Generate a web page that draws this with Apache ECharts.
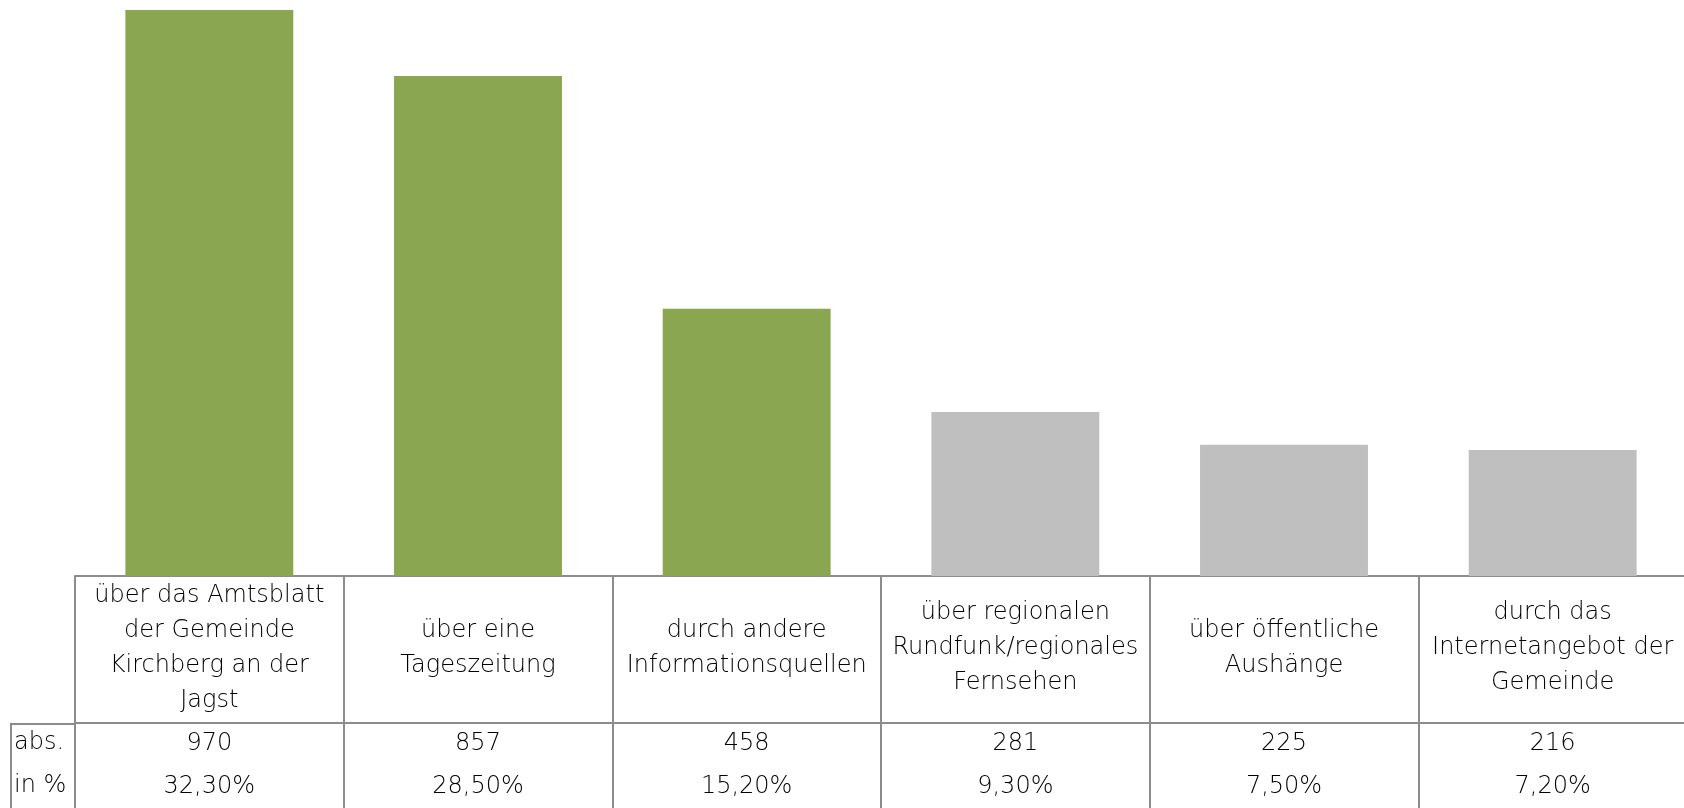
<!DOCTYPE html>
<html>
<head>
<meta charset="utf-8">
<script src="https://cdn.jsdelivr.net/npm/echarts@6/dist/echarts.min.js"></script>
<style>
    html,body{margin:0;padding:0;background:#fff;}
    #box{width:1684px;height:808px;}
</style>
</head>
<body>
<div id="box"></div>
<script>
// Kategorien und Werte
const categories = [
    'über das Amtsblatt\nder Gemeinde\nKirchberg an der\nJagst',
    'über eine\nTageszeitung',
    'durch andere\nInformationsquellen',
    'über regionalen\nRundfunk/regionales\nFernsehen',
    'über öffentliche\nAushänge',
    'durch das\nInternetangebot der\nGemeinde'
];
const absValues = [970, 857, 458, 281, 225, 216];
const pctValues = ['32,30%', '28,50%', '15,20%', '9,30%', '7,50%', '7,20%'];
const highlighted = [true, true, true, false, false, false];

const GREEN = '#8aa650';
const GREY_BAR = '#bfbfbf';
const LINE = '#8c8c8c';
const TXT = '#000';
const FONT = '"DejaVu Sans"';
const FONT_SIZE = 24;

const labelStyle = {
    color: TXT,
    fontFamily: FONT,
    fontWeight: 200,
    fontSize: FONT_SIZE,
    lineHeight: 35,
    verticalAlign: 'middle',
    interval: 0
};

let chart = echarts.init(document.getElementById('box'));

let option = {
    animation: false,
    grid: {
        left: 75,
        width: 1612,
        top: 10,
        bottom: 232,
        containLabel: false,
        outerBoundsMode: 'none'
    },
    xAxis: [
        {
            type: 'category',
            data: categories,
            position: 'bottom',
            axisLine: {lineStyle: {color: LINE, width: 2}},
            axisTick: {show: true, length: 232, lineStyle: {color: LINE, width: 2}},
            axisLabel: Object.assign({margin: 72}, labelStyle),
            splitLine: {show: false}
        },
        {
            type: 'category',
            data: absValues.map(v => String(v)),
            position: 'bottom',
            offset: 147,
            axisLine: {lineStyle: {color: LINE, width: 2}},
            axisTick: {show: false},
            axisLabel: Object.assign({margin: 21}, labelStyle)
        },
        {
            type: 'category',
            data: pctValues,
            position: 'bottom',
            offset: 147,
            axisLine: {show: false},
            axisTick: {show: false},
            axisLabel: Object.assign({margin: 64}, labelStyle)
        }
    ],
    yAxis: {
        type: 'value',
        min: 0,
        max: 970,
        show: false
    },
    series: [
        {
            type: 'bar',
            xAxisIndex: 0,
            barCategoryGap: '37.5%',
            data: absValues.map((v, i) => ({
                value: v,
                itemStyle: {color: highlighted[i] ? GREEN : GREY_BAR}
            }))
        }
    ],
    graphic: [
        {
            type: 'line',
            shape: {x1: 11, y1: 724, x2: 76, y2: 724},
            style: {stroke: LINE, lineWidth: 2}
        },
        {
            type: 'line',
            shape: {x1: 11, y1: 723, x2: 11, y2: 808},
            style: {stroke: LINE, lineWidth: 2}
        },
        {
            type: 'text',
            left: 14,
            top: 731,
            style: {text: 'abs.', fill: TXT, font: '200 ' + FONT_SIZE + 'px ' + FONT}
        },
        {
            type: 'text',
            left: 14,
            top: 774,
            style: {text: 'in %', fill: TXT, font: '200 ' + FONT_SIZE + 'px ' + FONT}
        }
    ]
};

chart.setOption(option);
</script>
</body>
</html>
